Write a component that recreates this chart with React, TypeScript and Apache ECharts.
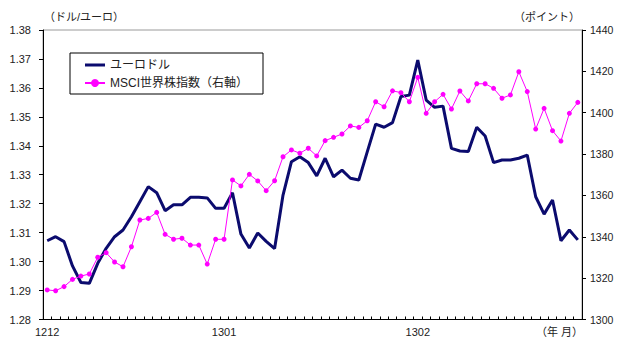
import React, { useEffect, useRef } from "react";
import * as echarts from "echarts";

// Business days per month (Dec 2012, Jan 2013, Feb 2013)
const decDays = ["03","04","05","06","07","10","11","12","13","14","17","18","19","20","21","24","25","26","27","28","31"];
const janDays = ["01","02","03","04","07","08","09","10","11","14","15","16","17","18","21","22","23","24","25","28","29","30","31"];
const febDays = ["01","04","05","06","07","08","11","12","13","14","15","18","19","20","21","22","25","26","27","28"];

const categories: string[] = [
  ...decDays.map((d) => "1212" + d),
  ...janDays.map((d) => "1301" + d),
  ...febDays.map((d) => "1302" + d),
];

const eurusd = [
  1.3072, 1.3086, 1.3069, 1.2985, 1.2928, 1.2925, 1.2994, 1.3046, 1.3086, 1.3109,
  1.3155, 1.3207, 1.3259, 1.3238, 1.3176, 1.3196, 1.3196, 1.3222, 1.3222, 1.3220,
  1.3184, 1.3184, 1.3238, 1.3095, 1.3047, 1.3099, 1.3070, 1.3045, 1.3230, 1.3345,
  1.3362, 1.3342, 1.3296, 1.3357, 1.3293, 1.3316, 1.3288, 1.3282, 1.3379, 1.3475,
  1.3464, 1.3480, 1.3570, 1.3575, 1.3696, 1.3558, 1.3533, 1.3537, 1.3391, 1.3382,
  1.3380, 1.3464, 1.3434, 1.3342, 1.3351, 1.3351, 1.3357, 1.3368, 1.3224, 1.3164,
  1.3213, 1.3072, 1.3109, 1.3075,
];

const msci = [
  1314.3, 1313.9, 1315.9, 1319.4, 1321.0, 1322.0, 1330.1, 1332.3, 1327.8, 1325.5,
  1335.2, 1348.1, 1348.9, 1351.8, 1341.2, 1338.8, 1339.3, 1336.0, 1336.0, 1326.8,
  1338.8, 1338.8, 1367.5, 1364.6, 1370.2, 1367.0, 1362.3, 1367.1, 1378.7, 1382.0,
  1380.4, 1382.8, 1379.1, 1386.5, 1388.1, 1389.7, 1393.6, 1392.9, 1396.1, 1405.3,
  1402.9, 1410.6, 1409.7, 1405.3, 1417.1, 1399.7, 1405.3, 1408.9, 1401.8, 1410.5,
  1405.7, 1414.0, 1414.0, 1411.8, 1407.0, 1408.6, 1419.8, 1410.2, 1392.1, 1402.1,
  1391.3, 1386.3, 1399.7, 1405.0,
];

const seriesNames = ["ユーロドル", "MSCI世界株指数（右軸）"];
const leftAxisName = "（ドル/ユーロ）";
const rightAxisName = "（ポイント）";
const xAxisName = "（年 月）";

const FONT = "'Liberation Sans', Arial, 'Noto Sans CJK JP', sans-serif";

export default function App() {
  const ref = useRef<HTMLDivElement>(null);

  useEffect(() => {
    if (!ref.current) return;
    const chart = echarts.init(ref.current, undefined, { renderer: "svg" });
    chart.setOption({
      animation: false,
      backgroundColor: "#ffffff",
      textStyle: { fontFamily: FONT },
      grid: {
        left: 43,
        right: 36,
        top: 30,
        bottom: 18.5,
        show: true,
        borderColor: "#9a9a9a",
        borderWidth: 1,
        backgroundColor: "transparent",
      },
      legend: {
        orient: "vertical",
        left: 70,
        top: 53,
        padding: [5, 15, 4, 14],
        itemGap: 4,
        itemWidth: 20,
        itemHeight: 10,
        symbolKeepAspect: true,
        backgroundColor: "#ffffff",
        borderColor: "#000000",
        borderWidth: 1,
        textStyle: { fontSize: 12, color: "#222", fontFamily: FONT, lineHeight: 14 },
        data: [
          { name: seriesNames[0], icon: "path://M0,0 L20,0 L20,3 L0,3 Z" },
          { name: seriesNames[1] },
        ],
      },
      xAxis: {
        type: "category",
        data: categories,
        boundaryGap: true,
        axisLine: { show: true, lineStyle: { color: "#000", width: 1 } },
        axisTick: { show: true, inside: true, length: 3, interval: 0, lineStyle: { color: "#000" } },
        axisLabel: {
          interval: 0,
          margin: 7,
          fontSize: 11,
          color: "#222",
          fontFamily: FONT,
          formatter: (value: string, index: number) => {
            if (index === 0 || categories[index - 1].slice(0, 4) !== value.slice(0, 4)) {
              return value.slice(0, 4);
            }
            return "";
          },
        },
        splitLine: { show: false },
      },
      yAxis: [
        {
          type: "value",
          min: 1.28,
          max: 1.38,
          interval: 0.01,
          axisLine: { show: true, lineStyle: { color: "#000", width: 1 } },
          axisTick: { show: true, inside: false, length: 4, lineStyle: { color: "#000" } },
          axisLabel: {
            margin: 12,
            fontSize: 11,
            color: "#222",
            fontFamily: FONT,
            formatter: (v: number) => v.toFixed(2),
          },
          splitLine: { show: false },
        },
        {
          type: "value",
          min: 1300,
          max: 1440,
          interval: 20,
          position: "right",
          axisLine: { show: true, lineStyle: { color: "#000", width: 1 } },
          axisTick: { show: true, inside: false, length: 4, lineStyle: { color: "#000" } },
          axisLabel: {
            margin: 8,
            fontSize: 10.5,
            color: "#222",
            fontFamily: FONT,
            formatter: (v: number) => String(Math.round(v)),
          },
          splitLine: { show: false },
        },
      ],
      series: [
        {
          name: seriesNames[0],
          type: "line",
          yAxisIndex: 0,
          data: eurusd,
          symbol: "none",
          lineStyle: { color: "#0b0b6e", width: 3 },
          itemStyle: { color: "#0b0b6e" },
        },
        {
          name: seriesNames[1],
          type: "line",
          yAxisIndex: 1,
          data: msci,
          symbol: "circle",
          symbolSize: 5,
          lineStyle: { color: "#ff00ff", width: 1 },
          itemStyle: { color: "#ff00ff" },
        },
      ],
      graphic: [
        {
          type: "text",
          left: 44,
          top: 11,
          style: { text: leftAxisName, fontSize: 11, fill: "#222", fontFamily: FONT },
        },
        {
          type: "text",
          right: 38,
          top: 11,
          style: { text: rightAxisName, fontSize: 11, fill: "#222", fontFamily: FONT },
        },
        {
          type: "text",
          right: 35,
          top: 326,
          style: { text: xAxisName, fontSize: 11, fill: "#222", fontFamily: FONT },
        },
      ],
    });
    return () => chart.dispose();
  }, []);

  return (
    <div
      ref={ref}
      style={{ position: "fixed", left: 0, top: 0, width: 618, height: 338, background: "#fff" }}
    />
  );
}
